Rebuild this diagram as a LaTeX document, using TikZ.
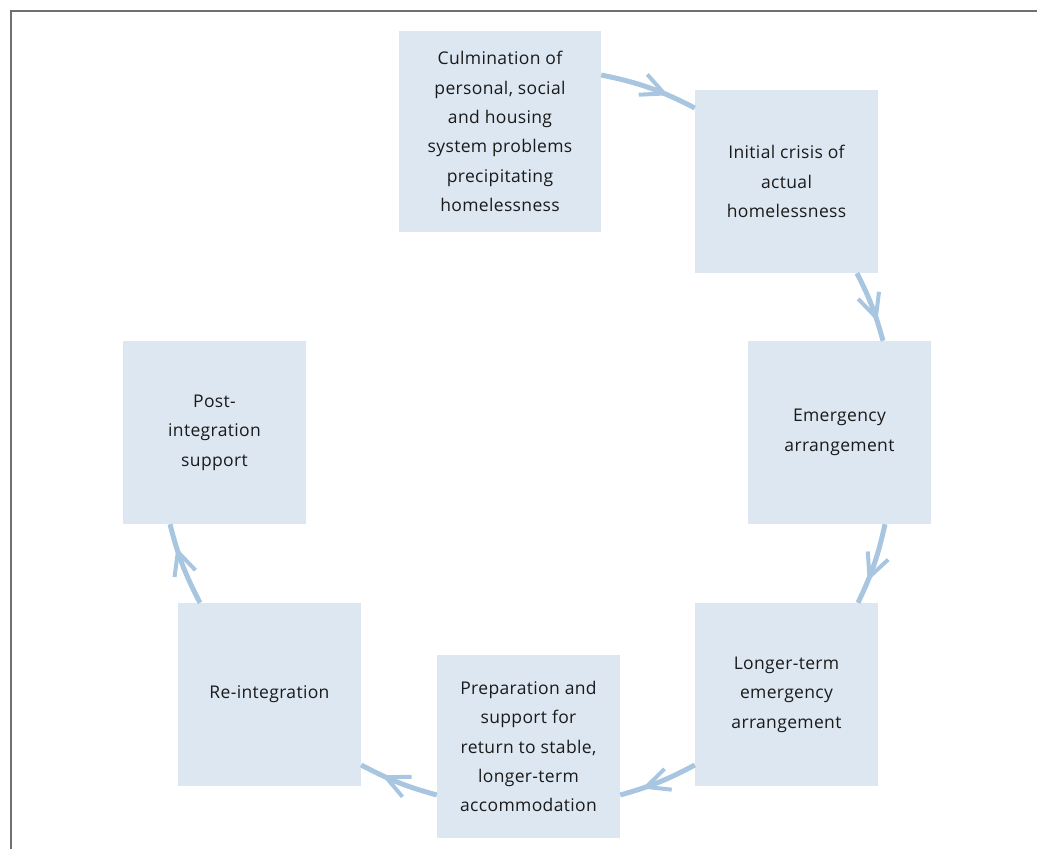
\documentclass[tikz,border=0pt]{standalone}
\usepackage{fontspec}
\setmainfont{Open Sans}[LetterSpace=2]
\usetikzlibrary{arrows.meta,decorations.markings}
\definecolor{boxfill}{HTML}{DDE7F2}
\definecolor{arrowc}{HTML}{A9C6E1}
\definecolor{framec}{HTML}{707070}
\definecolor{txt}{HTML}{1A1A1A}
\begin{document}
\begin{tikzpicture}[x=1pt,y=1pt,
  stage/.style={fill=boxfill,draw=none,minimum width=183pt,minimum height=183pt,
    inner sep=0pt,align=center,text=txt,font=\fontsize{17.5}{29.4}\selectfont},
  flow/.style={draw=arrowc,line width=5pt,
    postaction={decorate,decoration={markings,
      mark=at position 0.66 with {\draw[arrowc,line width=4pt,line join=round]
        (-23pt,11pt) -- (0pt,0pt) -- (-23pt,-11pt);}}}}
  ]
\useasboundingbox (0,0) rectangle (1037,-849);
\draw[framec,line width=2pt] (11,-849) -- (11,-10.5) coordinate (fc) -- (1037,-10.5);

\node[stage,minimum width=202pt,minimum height=201pt] (top) at (500,-131.5)
  {Culmination of\\personal, social\\and housing\\system problems\\precipitating\\homelessness};
\node[stage] (crisis) at (786.5,-181.5) {Initial crisis of\\actual\\homelessness};
\node[stage] (emerg) at (839.5,-432.5) {Emergency\\arrangement};
\node[stage] (longer) at (786.5,-694.5) {Longer-term\\emergency\\arrangement};
\node[stage] (prep) at (528.5,-746.5) {Preparation and\\support for\\return to stable,\\longer-term\\accommodation};
\node[stage] (reint) at (269.5,-694.5) {Re-integration};
\node[stage] (post) at (214.5,-432.5) {Post-\\integration\\support};

\draw[flow] ([yshift=56.5pt]top.east) to[bend left=7.9] ([yshift=73.5pt]crisis.west);
\draw[flow] ([xshift=70.5pt]crisis.south) to[bend left=5.7] ([xshift=43.5pt]emerg.north);
\draw[flow] ([xshift=45.5pt]emerg.south) to[bend left=6.5] ([xshift=71.5pt]longer.north);
\draw[flow] ([yshift=-70.5pt]longer.west) to[bend left=6.2] ([yshift=-48.5pt]prep.east);
\draw[flow] ([yshift=-48.5pt]prep.west) to[bend left=6.2] ([yshift=-70.5pt]reint.east);
\draw[flow] ([xshift=-69.5pt]reint.north) to[bend left=6.6] ([xshift=-44.5pt]post.south);
\end{tikzpicture}
\end{document}
